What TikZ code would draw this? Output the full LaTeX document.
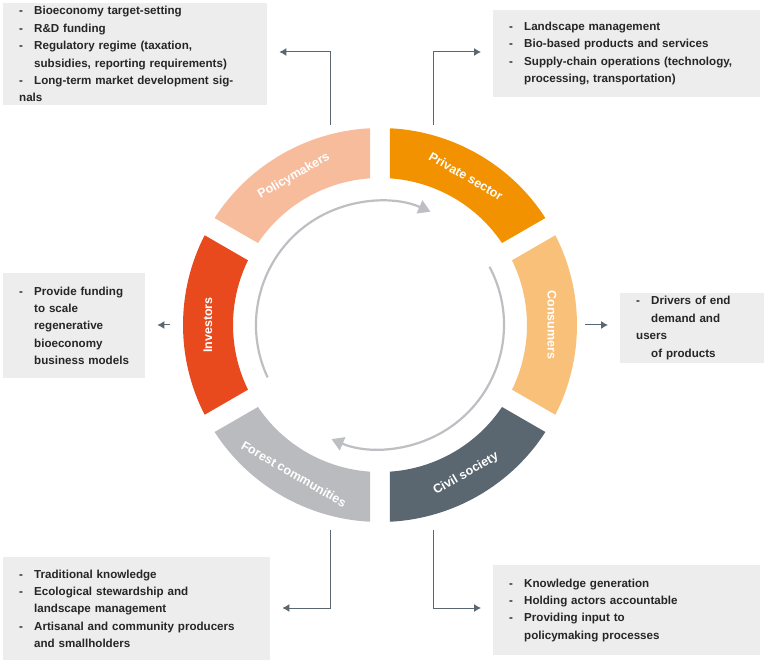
\documentclass[tikz,border=0pt]{standalone}
\usepackage{fontspec}
\setmainfont{Liberation Sans}
\usetikzlibrary{arrows.meta}
\definecolor{cPriv}{HTML}{F39200}
\definecolor{cCons}{HTML}{F9C07A}
\definecolor{cCivil}{HTML}{5B6770}
\definecolor{cForest}{HTML}{B9BBBE}
\definecolor{cInv}{HTML}{E8491D}
\definecolor{cPol}{HTML}{F6BC9C}
\definecolor{cBox}{HTML}{EDEDED}
\definecolor{cArr}{HTML}{5B6770}
\definecolor{cCirc}{HTML}{BDBFC2}
\newcommand{\dl}{\makebox[15pt][l]{-}}
\newcommand{\il}{\hspace*{15pt}}
\begin{document}
\begin{tikzpicture}[x=1pt,y=-1pt,
  infobox/.style={fill=cBox,anchor=north west,align=left,inner xsep=16pt,
    font=\fontsize{11.6}{17.4}\selectfont\bfseries,text=black!85},
  seglabel/.style={text=white,font=\fontsize{12.5}{14}\selectfont\bfseries},
  conn/.style={draw=cArr,line width=1pt,shorten >=12pt,-{Latex[length=7pt,width=8pt]}},
  circarrow/.style={draw=cCirc,line width=2.2pt,-{Triangle[length=12pt,width=14pt]}}]
\useasboundingbox[fill=white] (0,0) rectangle (764,663);
% boxes
\node[infobox,minimum width=262,minimum height=99,text width=232] (b1) at (3,3)
 {\dl Bioeconomy target-setting\\\dl R\&D funding\\\dl Regulatory regime (taxation,\\\il subsidies, reporting requirements)\\\dl Long-term market development signals};
\node[infobox,minimum width=265,minimum height=87,text width=235] (b2) at (493,10)
 {\dl Landscape management\\\dl Bio-based products and services\\\dl Supply-chain operations (technology,\\\il processing, transportation)};
\node[infobox,minimum width=139,minimum height=105,text width=110] (b3) at (3,273)
 {\dl Provide funding\\\il to scale\\\il regenerative\\\il bioeconomy\\\il business models};
\node[infobox,minimum width=141,minimum height=67,text width=118] (b4) at (620,293)
 {\dl Drivers of end\\\il demand and users\\\il of products};
\node[infobox,minimum width=265,minimum height=103,text width=235] (b5) at (3,557)
 {\dl Traditional knowledge\\\dl Ecological stewardship and\\\il landscape management\\\dl Artisanal and community producers\\\il and smallholders};
\node[infobox,minimum width=265,minimum height=90,text width=235] (b6) at (493,565)
 {\dl Knowledge generation\\\dl Holding actors accountable\\\dl Providing input to\\\il policymaking processes};
% ring
\begin{scope}[shift={(380,325)},y=1pt]
\foreach \a/\c in {90/cPriv,30/cCons,-30/cCivil,-90/cForest,-150/cInv,150/cPol}{
  \pgfmathsetmacro{\oa}{\a-2.9}\pgfmathsetmacro{\ob}{\a-60+2.9}
  \pgfmathsetmacro{\ia}{\a-60+3.9}\pgfmathsetmacro{\ib}{\a-3.9}
  \fill[\c] (\oa:197) arc[start angle=\oa,end angle=\ob,radius=197]
    -- (\ia:147) arc[start angle=\ia,end angle=\ib,radius=147] -- cycle;
}
\node[seglabel,rotate=-30] (lpriv) at (60:172) {Private sector};
\node[seglabel,rotate=-90] (lcons) at (0:172) {Consumers};
\node[seglabel,rotate=30] (lcivil) at (-60:172) {Civil society};
\node[seglabel,rotate=-30] (lforest) at (-120:172) {Forest communities};
\node[seglabel,rotate=90] (linv) at (180:172) {Investors};
\node[seglabel,rotate=30] (lpol) at (120:172) {Policymakers};
\draw[circarrow] (205:124) arc[start angle=205,end angle=66,radius=124];
\draw[circarrow] (28:124) arc[start angle=28,end angle=-113,radius=124];
\coordinate (cpol) at (-50,200);
\coordinate (cpriv) at (53,200);
\coordinate (ccons) at (205,0);
\coordinate (cinv) at (-210,0);
\coordinate (cfor) at (-50,-205);
\coordinate (cciv) at (53,-205);
\end{scope}
\draw[conn] (cpol) |- (b1.east |- 0,52);
\draw[conn] (cpriv) |- (b2.west |- 0,52);
\draw[conn] (ccons) -- (b4.west |- ccons);
\draw[conn] (cinv) -- (b3.east |- cinv);
\draw[conn] (cfor) |- (b5.east |- 0,608);
\draw[conn] (cciv) |- (b6.west |- 0,608);
\end{tikzpicture}
\end{document}
